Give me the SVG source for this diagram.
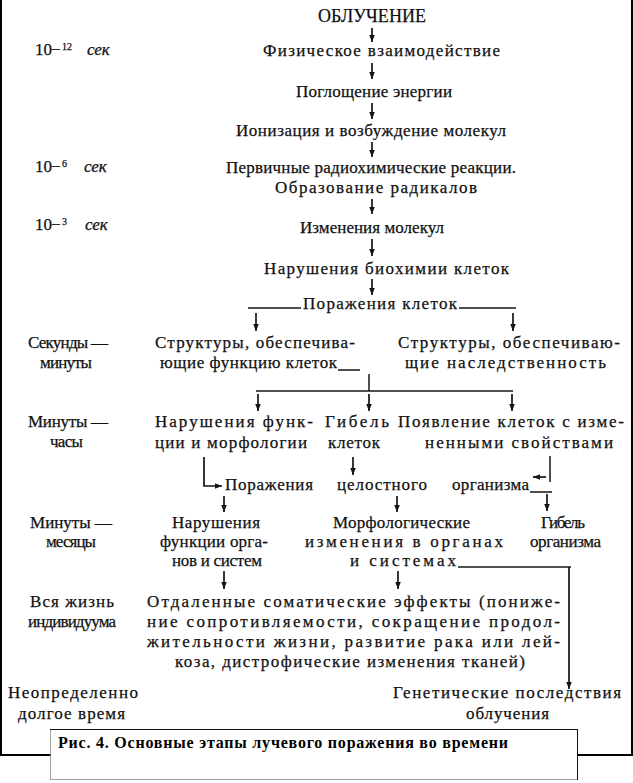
<svg xmlns="http://www.w3.org/2000/svg" width="633" height="783" viewBox="0 0 633 783">
<defs>
<style>
text{font-family:"Liberation Serif","Times New Roman","DejaVu Serif",serif;font-size:17px;fill:#111;stroke:#111;stroke-width:0.25}
.big{font-size:18px}
.sup{font-size:10px}
.it{font-style:italic}
.cap{font-size:16px;font-weight:bold;stroke:none;fill:#000}
.ln{stroke:#151515;stroke-width:1.5;fill:none}
.ar{stroke:#151515;stroke-width:1.7;fill:none;marker-end:url(#ah)}
</style>
<marker id="ah" viewBox="0 0 10 10" refX="10" refY="5" markerWidth="7" markerHeight="7" markerUnits="userSpaceOnUse" orient="auto">
<path d="M0,1 L10,5 L0,9 z" fill="#151515"/>
</marker>
</defs>
<rect width="633" height="783" fill="#fff"/>
<path d="M1,0 V755 H632 V0" fill="none" stroke="#000" stroke-width="2"/>

<g id="time-1"><text y="55"><tspan x="35">10</tspan><tspan x="51">−</tspan><tspan class="sup" x="62" y="50">12</tspan><tspan class="it" x="87" y="55">сек</tspan></text></g>
<g id="time-2"><text y="172"><tspan x="35">10</tspan><tspan x="51">−</tspan><tspan class="sup" x="62" y="167">6</tspan><tspan class="it" x="84" y="172">сек</tspan></text></g>
<g id="time-3"><text y="230"><tspan x="35">10</tspan><tspan x="51">−</tspan><tspan class="sup" x="62" y="225">3</tspan><tspan class="it" x="85" y="230">сек</tspan></text></g>
<g id="time-4"><text x="28" y="348" textLength="80">Секунды —</text><text x="40" y="368" textLength="52">минуты</text></g>
<g id="time-5"><text x="28" y="427" textLength="80">Минуты —</text><text x="50" y="447" textLength="33">часы</text></g>
<g id="time-6"><text x="30" y="528" textLength="82">Минуты —</text><text x="46" y="547" textLength="50">месяцы</text></g>
<g id="time-7"><text x="30" y="607" textLength="84">Вся жизнь</text><text x="28" y="627" textLength="88">индивидуума</text></g>
<g id="time-8"><text x="8" y="698" textLength="130">Неопределенно</text><text x="18" y="719" textLength="107">долгое время</text></g>

<g id="n-obluchenie"><text class="big" x="318" y="22" textLength="108">ОБЛУЧЕНИЕ</text></g>
<g id="n-fiz"><text x="263" y="56" textLength="237">Физическое взаимодействие</text></g>
<g id="n-pogl"><text x="296" y="97" textLength="156">Поглощение энергии</text></g>
<g id="n-ioniz"><text x="236" y="136" textLength="270">Ионизация и возбуждение молекул</text></g>
<g id="n-perv"><text x="226" y="173" textLength="290">Первичные радиохимические реакции.</text><text x="275" y="193" textLength="202">Образование радикалов</text></g>
<g id="n-izm"><text x="300" y="233" textLength="144">Изменения молекул</text></g>
<g id="n-narush-bio"><text x="264" y="274" textLength="245">Нарушения биохимии клеток</text></g>
<g id="n-porazh-kl"><text x="303" y="309" textLength="154">Поражения клеток</text></g>
<g id="n-struct-func"><text x="155" y="348" textLength="200">Структуры, обеспечива-</text><text x="160" y="368" textLength="177">ющие функцию клеток</text></g>
<g id="n-struct-her"><text x="398" y="348" textLength="222">Структуры, обеспечиваю-</text><text x="405" y="368" textLength="201">щие наследственность</text></g>
<g id="n-narush-func"><text x="155" y="427" textLength="158">Нарушения функ-</text><text x="155" y="448" textLength="152">ции и морфологии</text></g>
<g id="n-gibel-kl"><text x="325" y="427" textLength="64">Гибель</text><text x="328" y="448" textLength="52">клеток</text></g>
<g id="n-poyavl"><text x="398" y="427" textLength="226">Появление клеток с изме-</text><text x="425" y="448" textLength="188">ненными свойствами</text></g>
<g id="n-porazh-org"><text x="225" y="490" textLength="88">Поражения</text><text x="337" y="490" textLength="90">целостного</text><text x="452" y="490" textLength="77">организма</text></g>
<g id="n-narush-org"><text x="172" y="528" textLength="88">Нарушения</text><text x="160" y="547" textLength="108">функции орга-</text><text x="172" y="566" textLength="90">нов и систем</text></g>
<g id="n-morf"><text x="333" y="528" textLength="137">Морфологические</text><text x="305" y="547" textLength="198">изменения в органах</text><text x="350" y="566" textLength="106">и системах</text></g>
<g id="n-gibel-org"><text x="541" y="528" textLength="44">Гибель</text><text x="530" y="547" textLength="71">организма</text></g>
<g id="n-otdal"><text x="147" y="607" textLength="413">Отдаленные соматические эффекты (пониже-</text><text x="147" y="627" textLength="413">ние сопротивляемости, сокращение продол-</text><text x="147" y="647" textLength="413">жительности жизни, развитие рака или лей-</text><text x="175" y="667" textLength="350">коза, дистрофические изменения тканей)</text></g>
<g id="n-genet"><text x="393" y="698" textLength="228">Генетические последствия</text><text x="466" y="719" textLength="83">облучения</text></g>

<g id="connectors">
<path class="ar" d="M372,28 V42"/>
<path class="ar" d="M372,63 V79"/>
<path class="ar" d="M372,103 V119"/>
<path class="ar" d="M372,142 V157"/>
<path class="ar" d="M372,199 V214"/>
<path class="ar" d="M372,239 V256"/>
<path class="ar" d="M372,279 V295"/>
<path class="ln" d="M248,308 H301"/>
<path class="ln" d="M459,308 H516"/>
<path class="ar" d="M256,313 V331"/>
<path class="ar" d="M513,313 V331"/>
<path class="ln" d="M338,370 H360"/>
<path class="ln" d="M369,374 V391"/>
<path class="ln" d="M256,391 H513"/>
<path class="ar" d="M258,394 V411"/>
<path class="ar" d="M369,394 V411"/>
<path class="ar" d="M512,394 V411"/>
<path class="ar" d="M204,457 V486 H222"/>
<path class="ar" d="M353,457 V475"/>
<path class="ln" d="M550,456 V482"/>
<path class="ar" d="M546,477 H533"/>
<path class="ln" d="M530,492 H552"/>
<path class="ar" d="M224,496 V512"/>
<path class="ar" d="M397,496 V512"/>
<path class="ar" d="M547,494 V511"/>
<path class="ar" d="M224,571 V589"/>
<path class="ar" d="M398,571 V589"/>
<path class="ln" d="M458,567 H571"/>
<path class="ar" d="M569,567 V689"/>
</g>

<g id="caption">
<rect x="50.5" y="729.5" width="527" height="50" fill="#fff" stroke="#444" stroke-width="1" stroke-dasharray="1 1"/>
<path d="M50,729.5 H578 M577.5,729 V780" stroke="#111" stroke-width="1" fill="none"/>
<text class="cap" x="58" y="748" textLength="450">Рис. 4. Основные этапы лучевого поражения во времени</text>
</g>
</svg>
